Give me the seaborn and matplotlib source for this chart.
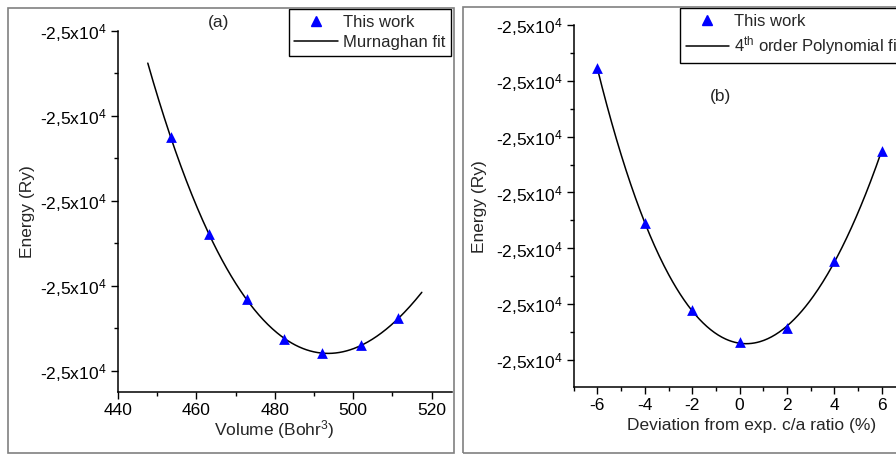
import numpy as np
import pandas as pd
import matplotlib
matplotlib.use("Agg")
import matplotlib.pyplot as plt
import seaborn as sns
from matplotlib.ticker import FuncFormatter, FixedLocator, MultipleLocator
from matplotlib.patches import Rectangle
from matplotlib.lines import Line2D

# ---- data -------------------------------------------------------------
# (a) total energy vs. unit-cell volume
volume = [453.4, 463.2, 472.8, 482.4, 492.1, 501.9, 511.5]          # Bohr^3
energy_vol = [-24999.81243, -24999.82396, -24999.83157, -24999.83624,
              -24999.83796, -24999.83702, -24999.83385]              # Ry
ticks_a = [-24999.80, -24999.81, -24999.82, -24999.83, -24999.84]

# (b) total energy vs. deviation of c/a from experiment
ca_dev = [-6, -4, -2, 0, 2, 4, 6]                                      # %
energy_ca = [-24999.900776, -24999.903554, -24999.905108, -24999.905686,
             -24999.905424, -24999.904224, -24999.902253]             # Ry
ticks_b = [-24999.900, -24999.901, -24999.902, -24999.903,
           -24999.904, -24999.905, -24999.906]

# ---- fits -------------------------------------------------------------
def murnaghan_basis(V, V0, Bp):
    return V / Bp * ((V0 / V) ** Bp / (Bp - 1) + 1) - V0 / (Bp - 1)


def fit_murnaghan(V, E):
    V = np.asarray(V, float)
    E = np.asarray(E, float)
    eref = E.mean()
    e = E - eref
    V0g, Bpg = np.meshgrid(np.linspace(480, 505, 251), np.linspace(2.0, 9.0, 141),
                           indexing="ij")
    f = murnaghan_basis(V[None, None, :], V0g[..., None], Bpg[..., None])
    fm = f.mean(-1, keepdims=True)
    em = e.mean()
    B0 = ((f - fm) * (e - em)).sum(-1) / ((f - fm) ** 2).sum(-1)
    E0 = em - B0 * fm[..., 0]
    res = ((E0[..., None] + B0[..., None] * f - e) ** 2).sum(-1)
    i, j = np.unravel_index(np.argmin(res), res.shape)
    V0, Bp, b0, e0 = V0g[i, j], Bpg[i, j], B0[i, j], E0[i, j]
    return lambda v: eref + e0 + b0 * murnaghan_basis(np.asarray(v, float), V0, Bp)


murn = fit_murnaghan(volume, energy_vol)
v_fit = np.linspace(447.6, 517.5, 300)
df_a_fit = pd.DataFrame({"V": v_fit, "E": murn(v_fit)})
df_a = pd.DataFrame({"V": volume, "E": energy_vol})

x_arr = np.asarray(ca_dev, float)
e_arr = np.asarray(energy_ca, float)
eref_b = e_arr.mean()
coef = np.polyfit(x_arr, e_arr - eref_b, 4)
x_fit = np.linspace(-6, 6, 300)
df_b_fit = pd.DataFrame({"x": x_fit, "E": np.polyval(coef, x_fit) + eref_b})
df_b = pd.DataFrame({"x": ca_dev, "E": energy_ca})

# ---- style ------------------------------------------------------------
sns.set_style("ticks")
plt.rcParams["font.family"] = ["Liberation Sans", "DejaVu Sans"]
plt.rcParams["mathtext.default"] = "regular"
plt.rcParams["axes.unicode_minus"] = False
FS = 12.5
FS_LEG = 12


def sci_comma(v, pos):
    mant, exp = f"{v:.1e}".split("e")
    return f"{mant.replace('.', ',')}x10$^{{{int(exp)}}}$"


W, H = 896, 455
fig = plt.figure(figsize=(W / 100, H / 100), dpi=100)


def px_axes(x0, x1, y0, y1):
    return fig.add_axes([x0 / W, 1 - y1 / H, (x1 - x0) / W, (y1 - y0) / H])


def style_axes(ax):
    for s in ("top", "right"):
        ax.spines[s].set_visible(False)
    for s in ("left", "bottom"):
        ax.spines[s].set_linewidth(1.1)
        ax.spines[s].set_color("black")
    ax.tick_params(which="major", direction="out", length=5, width=1, color="black",
                   labelsize=FS, pad=3, labelcolor="black")
    ax.tick_params(which="minor", direction="out", length=3, width=1, color="black")
    ax.yaxis.set_major_formatter(FuncFormatter(sci_comma))
    ax.set_facecolor("white")


def half_ticks(ticks):
    t = np.asarray(ticks)
    return list((t[:-1] + t[1:]) / 2) + [t[-1] - (t[0] - t[1]) / 2]


# panel frames
fig.add_artist(Rectangle((8.3 / W, 1 - 452.7 / H), (454 - 8.3) / W, (452.7 - 7.5) / H,
                         transform=fig.transFigure, fill=False, edgecolor="#808080", lw=1.2))
fig.add_artist(Rectangle((463.3 / W, 1 - 453 / H), (905 - 463.3) / W, (453 - 6.7) / H,
                         transform=fig.transFigure, fill=False, edgecolor="#808080", lw=1.2))

legend_kw = dict(fontsize=FS_LEG, frameon=True, fancybox=False, framealpha=1,
                 edgecolor="black", borderaxespad=0, borderpad=0.33, handlelength=2.6,
                 handletextpad=0.3, labelspacing=0.32, bbox_transform=fig.transFigure)

# ---- panel (a) --------------------------------------------------------
ax1 = px_axes(118, 452, 31, 392)
sns.lineplot(data=df_a_fit, x="V", y="E", color="black", lw=1.1, ax=ax1, legend=False)
sns.scatterplot(data=df_a, x="V", y="E", marker="^", color="blue", edgecolor="blue",
                linewidth=0, s=60, ax=ax1, legend=False, zorder=3)
step_a = ticks_a[0] - ticks_a[1]
ax1.set_ylim(ticks_a[0] - 4.252 * step_a, ticks_a[0])
ax1.set_xlim(440, 525.2)
ax1.yaxis.set_major_locator(FixedLocator(ticks_a))
ax1.yaxis.set_minor_locator(FixedLocator(half_ticks(ticks_a)))
ax1.xaxis.set_major_locator(MultipleLocator(20))
ax1.xaxis.set_minor_locator(MultipleLocator(10))
style_axes(ax1)
ax1.set_xlabel("Volume (Bohr$^3$)", fontsize=FS)
ax1.set_ylabel("Energy (Ry)", fontsize=FS)
ax1.xaxis.set_label_coords(0.467, -0.072)
ax1.yaxis.set_label_coords(-0.2485, 0.5)

handles_a = [Line2D([], [], ls="none", marker="^", color="blue", ms=7),
             Line2D([], [], color="black", lw=1.1)]
ax1.legend(handles_a, ["This work", "Murnaghan fit"], loc="upper right",
           bbox_to_anchor=(450.7 / W, 1 - 9.3 / H), **legend_kw)
ax1.get_legend().get_frame().set_linewidth(1.0)
fig.text(219 / W, 1 - 22 / H, "(a)", ha="center", va="center", fontsize=FS)

# ---- panel (b) --------------------------------------------------------
ax2 = px_axes(573.7, 905.5, 25, 387.3)
sns.lineplot(data=df_b_fit, x="x", y="E", color="black", lw=1.1, ax=ax2, legend=False)
sns.scatterplot(data=df_b, x="x", y="E", marker="^", color="blue", edgecolor="blue",
                linewidth=0, s=60, ax=ax2, legend=False, zorder=3)
step_b = ticks_b[0] - ticks_b[1]
ax2.set_ylim(ticks_b[0] - 6.489 * step_b, ticks_b[0])
ax2.set_xlim(-7, 7)
ax2.yaxis.set_major_locator(FixedLocator(ticks_b))
ax2.yaxis.set_minor_locator(FixedLocator(half_ticks(ticks_b)))
ax2.xaxis.set_major_locator(MultipleLocator(2))
ax2.xaxis.set_minor_locator(MultipleLocator(1))
style_axes(ax2)
ax2.set_xlabel("Deviation from exp. c/a ratio (%)", fontsize=FS)
ax2.set_ylabel("Energy (Ry)", fontsize=FS)
ax2.xaxis.set_label_coords(0.535, -0.086)
ax2.yaxis.set_label_coords(-0.261, 0.5)

handles_b = [Line2D([], [], ls="none", marker="^", color="blue", ms=7),
             Line2D([], [], color="black", lw=1.1)]
ax2.legend(handles_b, ["This work", "4$^{th}$ order Polynomial fit"], loc="upper left",
           bbox_to_anchor=(680 / W, 1 - 8.3 / H), **legend_kw)
ax2.get_legend().get_frame().set_linewidth(1.0)
fig.text(720 / W, 1 - 96 / H, "(b)", ha="center", va="center", fontsize=FS)

fig.savefig("out.png", dpi=100, facecolor="white")
